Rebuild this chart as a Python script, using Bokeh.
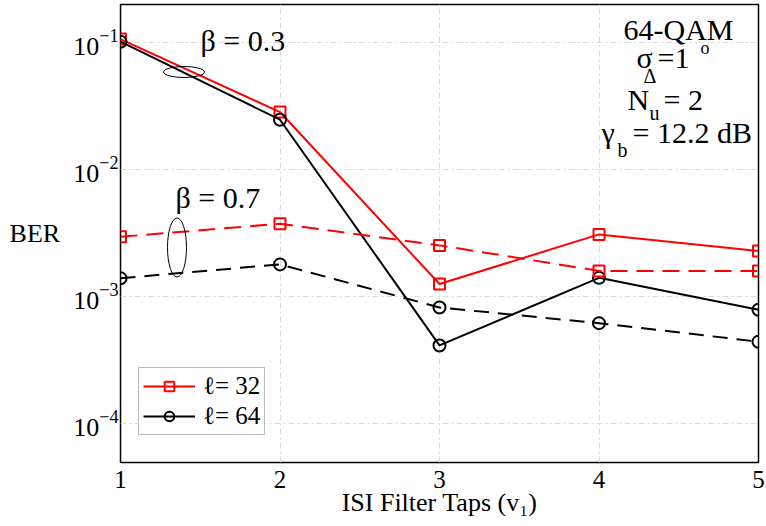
from bokeh.plotting import figure
from bokeh.models import FixedTicker, Legend, LegendItem, Label, Range1d, LogTickFormatter
from bokeh.embed import file_html
from bokeh.resources import INLINE

# ---------------- data ----------------
taps = [1, 2, 3, 4, 5]
x_tick_labels = ["1", "2", "3", "4", "5"]
y_ticks = [1e-4, 1e-3, 1e-2, 1e-1]

ber_beta03_l32 = [0.107, 0.0285, 1.26e-3, 3.10e-3, 2.29e-3]
ber_beta03_l64 = [0.102, 0.0248, 4.14e-4, 1.41e-3, 7.9e-4]
ber_beta07_l32 = [2.97e-3, 3.76e-3, 2.54e-3, 1.60e-3, 1.60e-3]
ber_beta07_l64 = [1.40e-3, 1.80e-3, 8.24e-4, 6.2e-4, 4.43e-4]

legend_labels = ["\u2113= 32", "\u2113= 64"]

FONT = "Liberation Serif"

# reference-pixel -> data helpers (for annotations only)
def px2x(px):
    return 1 + (px - 120) / 159.5

def py2y(py):
    return 10 ** (-1 - (py - 42.3) / 127)

p = figure(width=766, height=526,
           x_range=Range1d(1, 5),
           y_range=Range1d(py2y(462), py2y(4)),
           y_axis_type="log",
           output_backend="svg", toolbar_location=None,
           min_border_left=120, min_border_right=8,
           min_border_top=4, min_border_bottom=64)

p.background_fill_color = "white"
p.border_fill_color = "white"
p.outline_line_color = "black"
p.outline_line_width = 1.5

# axes
p.xaxis.ticker = FixedTicker(ticks=taps)
p.xaxis.major_label_overrides = {t: l for t, l in zip(taps, x_tick_labels)}
p.yaxis.ticker = FixedTicker(ticks=y_ticks)
p.yaxis.formatter = LogTickFormatter()
for ax in (p.xaxis[0], p.yaxis[0]):
    ax.axis_line_color = None
    ax.major_tick_line_color = None
    ax.minor_tick_line_color = None
    ax.major_tick_out = 0
    ax.major_tick_in = 0
    ax.major_label_text_font = FONT
    ax.major_label_text_color = "black"
    ax.axis_label_text_font = FONT
    ax.axis_label_text_font_size = "26px"
    ax.axis_label_text_font_style = "normal"
    ax.axis_label_text_color = "black"

p.xaxis.major_label_text_font_size = "25px"
p.xaxis.major_label_standoff = 8
p.xaxis.axis_label = "ISI Filter Taps (v\u2081)"
p.xaxis.axis_label_standoff = -3
p.yaxis.major_label_text_font_size = "26px"
p.yaxis.major_label_standoff = 2
p.yaxis.axis_label = "BER"
p.yaxis.axis_label_orientation = "horizontal"
p.yaxis.axis_label_standoff = 10

for g in (p.xgrid[0], p.ygrid[0]):
    g.grid_line_color = "#dadada"
    g.grid_line_dash = "6 3 2 3"
    g.grid_line_width = 1
    g.minor_grid_line_color = None

# ---------------- series ----------------
r1 = p.line(taps, ber_beta03_l32, line_color="red", line_width=2)
m1 = p.scatter(taps, ber_beta03_l32, marker="square", size=11, fill_color=None,
               line_color="red", line_width=2)
r2 = p.line(taps, ber_beta03_l64, line_color="black", line_width=2)
m2 = p.scatter(taps, ber_beta03_l64, marker="circle", size=12, fill_color=None,
               line_color="black", line_width=2)
p.line(taps, ber_beta07_l32, line_color="red", line_width=2, line_dash="17 9")
p.scatter(taps, ber_beta07_l32, marker="square", size=11, fill_color=None,
          line_color="red", line_width=2)
p.line(taps, ber_beta07_l64, line_color="black", line_width=2, line_dash="15 9")
p.scatter(taps, ber_beta07_l64, marker="circle", size=12, fill_color=None,
          line_color="black", line_width=2)

# ---------------- ellipses (group markers) ----------------
p.ellipse(x=[px2x(183.5), px2x(176.5)], y=[py2y(71.5), py2y(247)],
          width=[41, 19], height=[11, 59],
          width_units="screen", height_units="screen",
          fill_color=None, line_color="black", line_width=1)

# ---------------- text annotations ----------------
TEXT_SHIFT = -8  # compensate baseline placement

def add_text(txt, px, py, size, align="left"):
    p.add_layout(Label(x=px2x(px), y=py2y(py + TEXT_SHIFT), text=txt,
                       text_font=FONT, text_font_size=f"{size}px",
                       text_color="black", text_align=align,
                       text_baseline="alphabetic"))

add_text("\u03b2 = 0.3", 200, 48, 30)
add_text("\u03b2 = 0.7", 175, 205, 30)
add_text("64-QAM", 678, 37, 30, "center")
add_text("\u03c3", 636, 65, 30)
add_text("\u0394", 643, 83, 20)
add_text("=1", 657, 65, 30)
add_text("o", 700, 55, 18)
add_text("N", 627, 107, 30)
add_text("u", 649, 120, 20)
add_text("= 2", 663, 107, 30)
add_text("\u03b3", 601, 140, 30)
add_text("b", 617, 157, 20)
add_text("= 12.2 dB", 632, 140, 30)

# ---------------- legend ----------------
legend = Legend(items=[LegendItem(label=legend_labels[0], renderers=[r1, m1]),
                       LegendItem(label=legend_labels[1], renderers=[r2, m2])],
                location=(18, 27))
legend.border_line_color = "#777777"
legend.border_line_width = 1
legend.background_fill_color = "white"
legend.background_fill_alpha = 1
legend.label_text_font = FONT
legend.label_text_font_size = "25px"
legend.label_text_color = "black"
legend.padding = 4
legend.spacing = 2
legend.margin = 0
legend.glyph_width = 52
legend.glyph_height = 24
legend.label_height = 24
legend.label_standoff = 8
p.add_layout(legend)

open("out.html", "w").write(file_html(p, INLINE))
